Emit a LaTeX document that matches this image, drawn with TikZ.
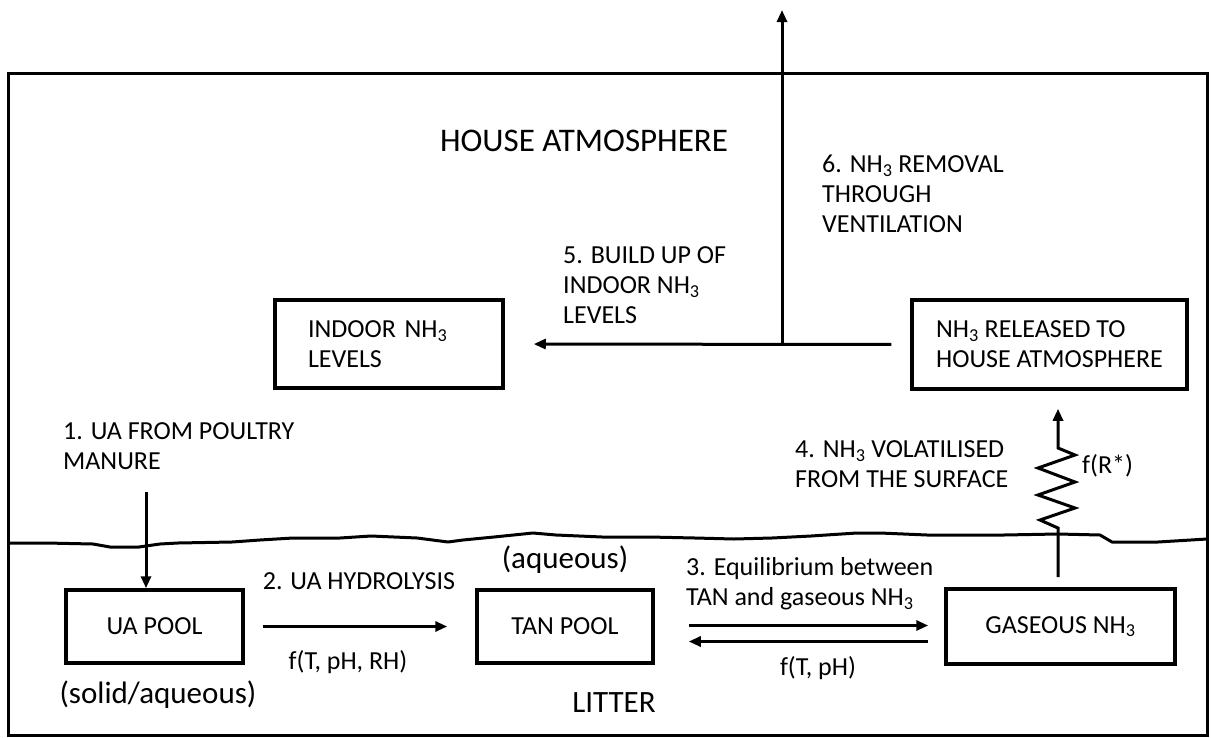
\documentclass[tikz,border=0pt]{standalone}
\usepackage{fontspec}
\setmainfont{Carlito}
\usetikzlibrary{arrows.meta}
\newcommand{\nhiii}{NH\textsubscript{3}}
\tikzset{
  every node/.style={font=\fontsize{26}{30}\selectfont},
  big/.style={font=\fontsize{31}{35}\selectfont},
  box/.style={draw, rectangle, line width=3.5pt, inner sep=0pt},
  txt/.style={anchor=west, align=left, inner sep=0pt},
  flow/.style={line width=3pt, -{Triangle[length=12pt,width=10pt]}},
}
\begin{document}
\begin{tikzpicture}[x=1pt,y=-1pt]
      \useasboundingbox (0,0) rectangle (1211,737);
      \draw[line width=3pt] (8,73) rectangle (1207,735);
      \draw[line width=3pt, line join=round]
        (8,543) -- (46,543) -- (93,544) -- (110,547) -- (139,547) -- (160,544)
        -- (178,543) -- (232,542) -- (260,540) -- (293,538) -- (340,538)
        -- (371,536) -- (417,538) -- (448,542) -- (463,540) -- (494,537)
        -- (533,533) -- (556,535) -- (602,537) -- (649,537) -- (695,538)
        -- (734,539) -- (772,538) -- (811,536) -- (857,533) -- (880,533)
        -- (927,535) -- (1004,535) -- (1058,534) -- (1100,535) -- (1112,542)
        -- (1158,542) -- (1207,539);
      \node[box, minimum width=228pt, minimum height=88pt, align=left, text width=162pt] (indoor) at (389,344) {INDOOR \nhiii\\LEVELS};
      \node[box, minimum width=275pt, minimum height=89pt, align=left] (released) at (1049.5,344.5) {\nhiii{} RELEASED TO\\HOUSE ATMOSPHERE};
      \node[box, minimum width=177pt, minimum height=73pt] (uapool) at (154.5,626.5) {UA POOL};
      \node[box, minimum width=176pt, minimum height=73pt] (tanpool) at (565,626.5) {TAN POOL};
      \node[box, minimum width=229pt, minimum height=75pt] (gasnh) at (1060.5,626.5) {GASEOUS \nhiii};
      \node[big, font=\fontsize{33}{37}\selectfont] (houseatm) at (584,141) {HOUSE ATMOSPHERE};
      \node[txt] (stepsix) at (822,194) {6. \nhiii{} REMOVAL\\THROUGH\\VENTILATION};
      \node[txt] (stepfive) at (563,285) {5. BUILD UP OF\\INDOOR \nhiii\\LEVELS};
      \node[txt] (stepone) at (63,446) {1. UA FROM POULTRY\\MANURE};
      \node[txt] (stepfour) at (795,464) {4. \nhiii{} VOLATILISED\\FROM THE SURFACE};
      \node[txt] (resist) at (1082,466) {f(R*)};
      \node (steptwo) at (359,581) {2. UA HYDROLYSIS};
      \node (ratetwo) at (348,662) {f(T, pH, RH)};
      \node[big] (aqueous) at (565,560) {(aqueous)};
      \node[txt] (stepthree) at (686,584) {3. Equilibrium between\\TAN and gaseous \nhiii};
      \node (ratethree) at (818,668) {f(T, pH)};
      \node[big] (solid) at (158,695) {(solid/aqueous)};
      \node[big] (litter) at (614,703) {LITTER};
      \coordinate (vent) at (782,10);
      \coordinate (junc) at (782,345);
      \coordinate (manure) at (146,492);
      \coordinate (gasup) at (1058,577);
      \begin{scope}[flow]
        \draw (junc) -- (vent);
        \draw[shorten <=19pt, shorten >=29pt] (released.west) -- (indoor.east);
        \draw (manure) -- (manure |- uapool.north);
        \draw[shorten <=18pt, shorten >=28pt] (uapool.east) -- (tanpool.west);
        \draw[shorten <=34pt, shorten >=16pt] ([yshift=1pt]tanpool.east) -- ([yshift=1pt]gasnh.west);
        \draw[shorten <=16pt, shorten >=34pt] ([yshift=-15pt]gasnh.west) -- ([yshift=-15pt]tanpool.east);
        \draw[line join=miter] (gasup) -- ++(0,-49) -- ++(-18,-8) -- ++(35,-12) -- ++(-37,-13)
          -- ++(37,-13) -- ++(-37,-14) -- ++(37,-13) -- ++(-17,-7)
          -- ([yshift=-18pt]gasup |- released.south);
      \end{scope}
    \end{tikzpicture}
\end{document}
